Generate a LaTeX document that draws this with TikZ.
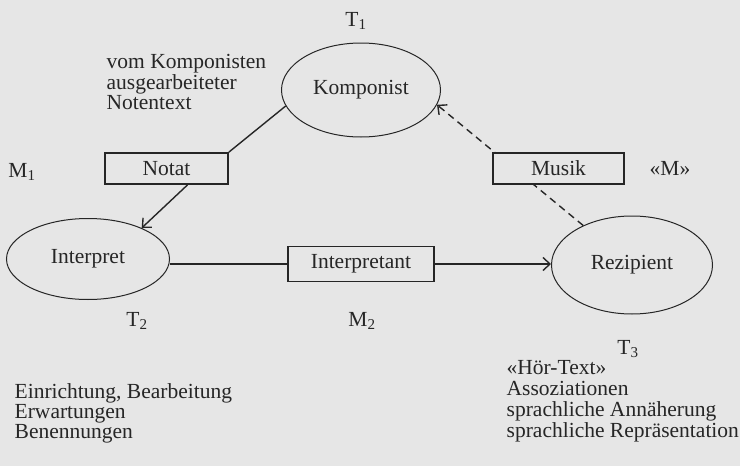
\documentclass[tikz,border=0pt]{standalone}
\usepackage{fontspec}
\setmainfont{Liberation Serif}
\usetikzlibrary{positioning,shapes,arrows.meta}
\definecolor{paper}{HTML}{E6E6E6}
\definecolor{ink}{HTML}{262626}
\tikzstyle{EllNode}=[ellipse, draw=ink, line width=1pt, inner sep=0pt]
\tikzstyle{BoxNode}=[rectangle, draw=ink, line width=1.8pt, fill=paper, inner sep=0pt]
\tikzstyle{TxtNode}=[align=left, inner sep=0pt, anchor=west]

\begin{document}
\begin{tikzpicture}[x=1pt, y=-1pt, font=\fontsize{21.5}{20}\selectfont, text=ink, draw=ink, line width=1.4pt,
    >={Straight Barb[length=7pt,width=13pt]}]
      \fill[paper] (0,0) rectangle (740,466);
      % ellipses and boxes
      \node[EllNode, minimum width=159pt, minimum height=94pt] (komp) at (361,90) {Komponist};
      \node[EllNode, minimum width=163pt, minimum height=81pt] (interp) at (88,259) {Interpret};
      \node[EllNode, minimum width=161pt, minimum height=98pt] (rez) at (632,265) {Rezipient};
      \node[BoxNode, minimum width=123pt, minimum height=31pt] (notat) at (166.5,168.5) {Notat};
      \node[BoxNode, minimum width=146pt, minimum height=35pt] (ipt) at (361,264) {Interpretant};
      \draw (komp.-168) -- (notat.north east);
      \draw[->] ([xshift=21pt]notat.south) -- (interp.30);
      \draw (ipt.west) -- (ipt.west -| interp.east);
      \draw[->] (ipt.east) -- (ipt.east -| rez.west);
      \draw[->, dash pattern=on 7pt off 5pt] (rez.141) -- (komp.-11);
      \node[BoxNode, minimum width=131pt, minimum height=31pt] (musik) at (558.5,168.5) {Musik};
      % labels
      \node (t1) at (356,21) {T\textsubscript{1}};
      \node (m1) at (22,172) {M\textsubscript{1}};
      \node (m) at (670,168) {«M»};
      \node (t2) at (137,321) {T\textsubscript{2}};
      \node (m2) at (362,321) {M\textsubscript{2}};
      \node (t3) at (628,349) {T\textsubscript{3}};
      \node[TxtNode, font=\fontsize{21.5}{18.5}\selectfont] (kompText) at (106,82)
        {vom Komponisten\\ausgearbeiteter\\Notentext};
      \node[TxtNode] (interpText) at (14,413)
        {Einrichtung, Bearbeitung\\Erwartungen\\Benennungen};
      \node[TxtNode, font=\fontsize{21.5}{21}\selectfont] (rezText) at (506,401)
        {«Hör-Text»\\Assoziationen\\sprachliche Annäherung\\sprachliche Repräsentation};
\end{tikzpicture}
\end{document}
